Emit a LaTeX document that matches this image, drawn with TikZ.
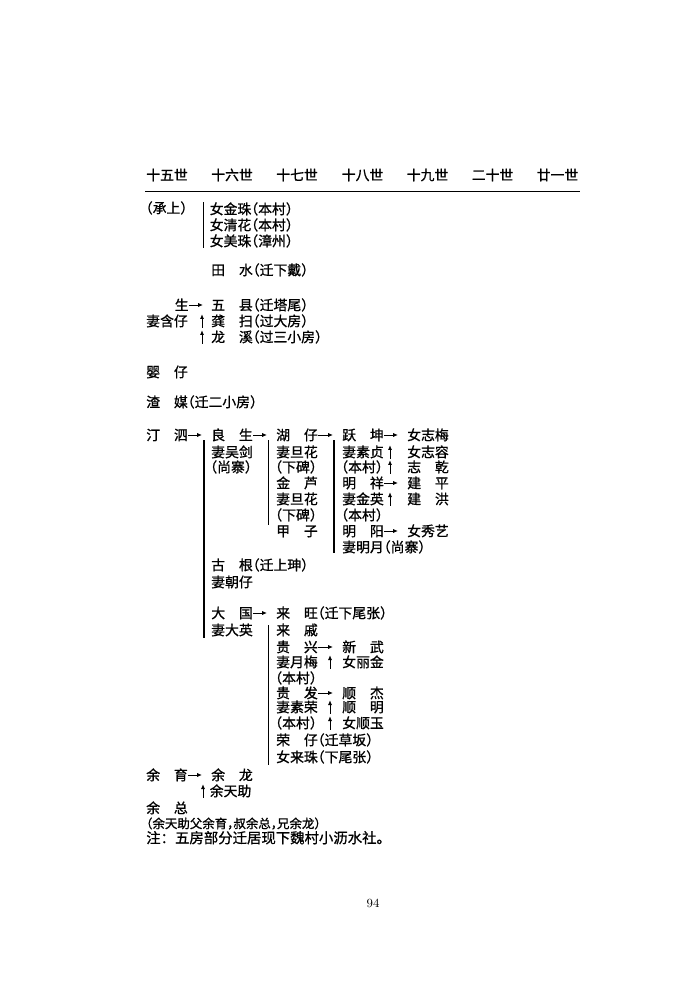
\documentclass[tikz,border=0pt]{standalone}
\usepackage{fontspec}
\newfontfamily\cjk[RawFeature=+halt, FakeBold=1]{Noto Sans CJK SC}
\newfontfamily\cjkfull[FakeBold=1]{Noto Sans CJK SC}
\usepackage{tikz}
\usetikzlibrary{arrows.meta}

\begin{document}
\begin{tikzpicture}[
		kin/.style = {anchor = west, inner sep = 0pt, text height = 8.5pt, text depth = 1pt, font = \cjk\fontsize{10pt}{12pt}\selectfont},
		harr/.style = {-{Latex[length = 3.5pt, width = 3pt]}, line width = 0.7pt, shorten > = 0.09in},
		uarr/.style = {-{Latex[length = 3.5pt, width = 3pt]}, line width = 0.7pt},
		bar/.style = {line width = 0.8pt}
	]
		\useasboundingbox (0in,0in) rectangle (7in,-10in);
		% Generation header
		\node [kin] (h15) at (1.46in,-1.75in) {十五世};
		\node [kin] (h16) at (2.11in,-1.75in) {十六世};
		\node [kin] (h17) at (2.76in,-1.75in) {十七世};
		\node [kin] (h18) at (3.415in,-1.75in) {十八世};
		\node [kin] (h19) at (4.065in,-1.75in) {十九世};
		\node [kin] (h20) at (4.715in,-1.75in) {二十世};
		\node [kin] (h21) at (5.365in,-1.75in) {廿一世};
		\draw [line width = 1.3pt] (1.45in,-1.915in) -- (5.80in,-1.915in);
		% Continued from previous page
		\node [kin] (chengshang) at (1.455in,-2.08in) {（承上）};
		\draw [bar] (2.035in,-2.02in) -- (2.035in,-2.48in);
		\node [kin] (jinzhu) at (2.095in,-2.09in) {女金珠（本村）};
		\node [kin] (qinghua) at (2.095in,-2.25in) {女清花（本村）};
		\node [kin] (meizhu) at (2.095in,-2.41in) {女美珠（漳州）};
		% Tian shui
		\node [kin] (tianshui) at (2.11in,-2.70in) {田　水（迁下戴）};
		% Wife Hanzai and sons
		\node [kin] (sheng) at (1.745in,-3.05in) {生};
		\node [kin] (wuxian) at (2.11in,-3.05in) {五　县（迁塔尾）};
		\node [kin] (hanzai) at (1.46in,-3.21in) {妻含仔};
		\node [kin] (gongsao) at (2.11in,-3.21in) {龚　扫（过大房）};
		\node [kin] (longxi) at (2.11in,-3.37in) {龙　溪（过三小房）};
		\draw [harr, shorten > = 0.08in] (sheng.east) -- (wuxian.west);
		\draw [uarr] ([xshift = -0.09in]gongsao.south west) -- ([xshift = -0.09in]gongsao.north west);
		\draw [uarr] ([xshift = -0.09in]longxi.south west) -- ([xshift = -0.09in]longxi.north west);
		% Ying zai, Zha mei
		\node [kin] (yingzai) at (1.46in,-3.72in) {婴　仔};
		\node [kin] (zhamei) at (1.46in,-4.02in) {渣　媒（迁二小房）};
		% Ting si line
		\node [kin] (tingsi) at (1.46in,-4.35in) {汀　泗};
		\node [kin] (liangsheng) at (2.11in,-4.35in) {良　生};
		\node [kin] (wujian) at (2.11in,-4.52in) {妻吴剑};
		\node [kin] (wujianfrom) at (2.10in,-4.67in) {（尚寨）};
		\draw [bar] (2.04in,-4.40in) -- (2.04in,-6.38in);
		% Hu zai and brothers
		\node [kin] (huzai) at (2.76in,-4.35in) {湖　仔};
		\node [kin] (danhua) at (2.76in,-4.52in) {妻旦花};
		\node [kin] (danhuafrom) at (2.75in,-4.67in) {（下碑）};
		\node [kin] (jinlu) at (2.76in,-4.83in) {金　芦};
		\node [kin] (danhuab) at (2.76in,-4.99in) {妻旦花};
		\node [kin] (danhuabfrom) at (2.75in,-5.15in) {（下碑）};
		\node [kin] (jiazi) at (2.76in,-5.31in) {甲　子};
		\draw [bar] (2.683in,-4.40in) -- (2.683in,-5.25in);
		% Yue kun and brothers
		\node [kin] (yuekun) at (3.42in,-4.35in) {跃　坤};
		\node [kin] (suzhen) at (3.42in,-4.52in) {妻素贞};
		\node [kin] (suzhenfrom) at (3.41in,-4.67in) {（本村）};
		\node [kin] (mingxiang) at (3.42in,-4.83in) {明　祥};
		\node [kin] (jinying) at (3.42in,-4.99in) {妻金英};
		\node [kin] (jinyingfrom) at (3.41in,-5.15in) {（本村）};
		\node [kin] (mingyang) at (3.42in,-5.31in) {明　阳};
		\node [kin] (mingyue) at (3.42in,-5.47in) {妻明月（尚寨）};
		\draw [bar] (3.34in,-4.40in) -- (3.34in,-5.53in);
		% Twentieth generation
		\node [kin] (zhimei) at (4.07in,-4.35in) {女志梅};
		\node [kin] (zhirong) at (4.07in,-4.52in) {女志容};
		\node [kin] (zhiqian) at (4.07in,-4.67in) {志　乾};
		\node [kin] (jianping) at (4.07in,-4.83in) {建　平};
		\node [kin] (jianhong) at (4.07in,-4.99in) {建　洪};
		\node [kin] (xiuyi) at (4.07in,-5.31in) {女秀艺};
		\draw [harr] (tingsi.east) -- (liangsheng.west);
		\draw [harr] (liangsheng.east) -- (huzai.west);
		\draw [harr] (huzai.east) -- (yuekun.west);
		\draw [harr] (yuekun.east) -- (zhimei.west);
		\draw [harr] (mingxiang.east) -- (jianping.west);
		\draw [harr] (mingyang.east) -- (xiuyi.west);
		\draw [uarr] ([xshift = -0.17in]zhirong.south west) -- ([xshift = -0.17in]zhirong.north west);
		\draw [uarr] ([xshift = -0.17in]zhiqian.south west) -- ([xshift = -0.17in]zhiqian.north west);
		\draw [uarr] ([xshift = -0.17in]jianhong.south west) -- ([xshift = -0.17in]jianhong.north west);
		% Gu gen
		\node [kin] (gugen) at (2.11in,-5.65in) {古　根（迁上珅）};
		\node [kin] (chaozai) at (2.11in,-5.82in) {妻朝仔};
		% Da guo and sons
		\node [kin] (daguo) at (2.11in,-6.13in) {大　国};
		\node [kin] (daying) at (2.11in,-6.30in) {妻大英};
		\node [kin] (laiwang) at (2.76in,-6.13in) {来　旺（迁下尾张）};
		\node [kin] (laiqi) at (2.76in,-6.30in) {来　戚};
		\node [kin] (guixing) at (2.76in,-6.47in) {贵　兴};
		\node [kin] (yuemei) at (2.76in,-6.62in) {妻月梅};
		\node [kin] (yuemeifrom) at (2.75in,-6.78in) {（本村）};
		\node [kin] (guifa) at (2.76in,-6.93in) {贵　发};
		\node [kin] (surong) at (2.76in,-7.07in) {妻素荣};
		\node [kin] (surongfrom) at (2.75in,-7.23in) {（本村）};
		\node [kin] (rongzai) at (2.76in,-7.40in) {荣　仔（迁草坂）};
		\node [kin] (laizhu) at (2.76in,-7.57in) {女来珠（下尾张）};
		\draw [bar] (2.685in,-6.25in) -- (2.685in,-7.65in);
		\node [kin] (xinwu) at (3.42in,-6.47in) {新　武};
		\node [kin] (lijin) at (3.42in,-6.62in) {女丽金};
		\node [kin] (shunjie) at (3.42in,-6.93in) {顺　杰};
		\node [kin] (shunming) at (3.42in,-7.07in) {顺　明};
		\node [kin] (shunyu) at (3.42in,-7.23in) {女顺玉};
		\draw [harr] (daguo.east) -- (laiwang.west);
		\draw [harr] (guixing.east) -- (xinwu.west);
		\draw [harr] (guifa.east) -- (shunjie.west);
		\draw [uarr] ([xshift = -0.12in]lijin.south west) -- ([xshift = -0.12in]lijin.north west);
		\draw [uarr] ([xshift = -0.12in]shunming.south west) -- ([xshift = -0.12in]shunming.north west);
		\draw [uarr] ([xshift = -0.12in]shunyu.south west) -- ([xshift = -0.12in]shunyu.north west);
		% Yu yu line
		\node [kin] (yuyu) at (1.46in,-7.75in) {余　育};
		\node [kin] (yulong) at (2.11in,-7.75in) {余　龙};
		\node [kin] (tianzhu) at (2.095in,-7.91in) {余天助};
		\draw [harr] (yuyu.east) -- (yulong.west);
		\draw [uarr] ([xshift = -0.065in]tianzhu.south west) -- ([xshift = -0.065in]tianzhu.north west);
		\node [kin] (yuzong) at (1.46in,-8.08in) {余　总};
		% Notes
		\node [kin, font = \cjk\fontsize{9pt}{11pt}\selectfont] (kinnote) at (1.46in,-8.23in) {（余天助父余育，叔余总，兄余龙）};
		\node [kin, font = \cjkfull\fontsize{10.4pt}{12pt}\selectfont] (movenote) at (1.46in,-8.38in) {注：五房部分迁居现下魏村小沥水社。};
		% Page number
		\node [inner sep = 0pt, font = \fontsize{9pt}{11pt}\selectfont] (pageno) at (3.73in,-9.03in) {94};
\end{tikzpicture}
\end{document}
